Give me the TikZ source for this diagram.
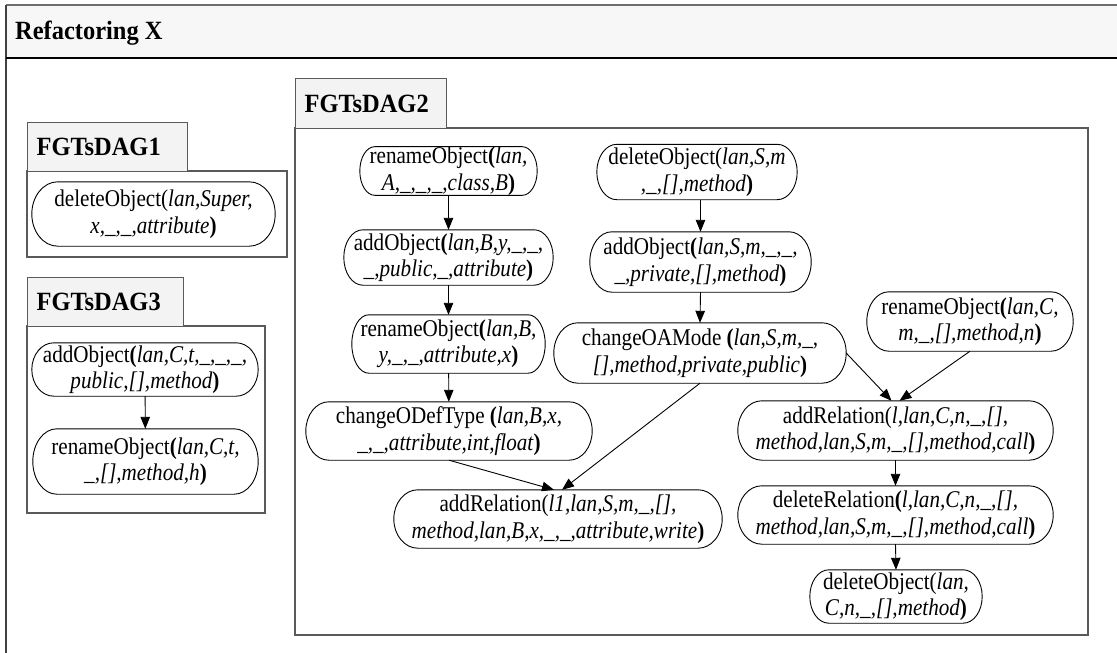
\documentclass[tikz,border=0pt]{standalone}
\usepackage{fontspec}
\setmainfont{Liberation Serif}
\newfontfamily\opfont[FakeStretch=0.88]{Liberation Serif}
\newfontfamily\hdrfont[FakeStretch=0.93]{Liberation Serif}
\usetikzlibrary{arrows.meta,calc}

\definecolor{framegray}{HTML}{5A5A5A}
\definecolor{outergray}{HTML}{6E6E6E}
\definecolor{titlefill}{HTML}{F7F7F7}
\definecolor{hdrfill}{HTML}{F3F3F3}

\newcommand{\ii}[1]{\textit{#1}}
\newcommand{\bo}{\textbf{(}}
\newcommand{\bc}{\textbf{)}}

\tikzset{
  x=1pt, y=-1pt,
  % operation node: #1 = width, #2 = height; its outline is drawn by \pillborder
  op/.style 2 args={rectangle, align=center, inner sep=0pt,
    minimum width=#1, minimum height=#2,
    font=\opfont\fontsize{24}{26.5}\selectfont},
  pillline/.style={draw=black, line width=0.9pt},
  hdr/.style={draw=framegray, fill=hdrfill, line width=1.2pt, anchor=north west,
    inner xsep=9pt, align=left, font=\hdrfont\fontsize{26.3}{28}\selectfont\bfseries},
  frm/.style={draw=framegray, line width=1.2pt},
  flow/.style={-{Triangle[length=12pt,width=9.5pt]}, line width=0.9pt},
}

% outline with elliptic ends around node #1, ends #2 wide
\newcommand{\pillborder}[2]{%
  \draw[pillline] let \p1=(#1.north east), \p2=(#1.south west),
      \n1={(\y1-\y2)/2} in
    ([xshift=#2]#1.north west) -- ([xshift=-#2]#1.north east)
    arc[start angle=90, end angle=-90, x radius=#2, y radius=\n1]
    -- ([xshift=#2]#1.south west)
    arc[start angle=270, end angle=90, x radius=#2, y radius=\n1]
    -- cycle;}

\begin{document}
\begin{tikzpicture}
\useasboundingbox (0,0) rectangle (1117,653);
\clip (0,0) rectangle (1117,653);

% outer panel with its title bar
\fill[titlefill] (6,5) rectangle (1130,58);
\draw[outergray, line width=2pt] (1130,5) -- (6,5);
\draw[black!75, line width=2pt] (6,5) -- (6,670);
\draw[black, line width=1.8pt] (6,58) -- (1130,58);
\node[anchor=base west, inner sep=0pt, font=\hdrfont\fontsize{26.3}{28}\selectfont\bfseries]
  (title) at (15,39.5) {Refactoring X};

% group frames
\draw[frm] (27,171) rectangle (287,257);
\draw[frm] (27,326) rectangle (265,513);
\draw[frm] (295,128) rectangle (1088,635);

% group headers
\node[hdr, minimum width=160pt, minimum height=49pt, text width=142pt] (g1) at (27,122) {FGTsDAG1};
\node[hdr, minimum width=156pt, minimum height=49pt, text width=138pt] (g3) at (27,277) {FGTsDAG3};
\node[hdr, minimum width=151pt, minimum height=50pt, text width=133pt] (g2) at (295,78) {FGTsDAG2};

% FGTsDAG1
\node[op={243pt}{64pt}] (d1) at (153.5,214)
  {deleteObject(\ii{lan,Super,}\\\ii{x,\_,\_,attribute}\bc};

% FGTsDAG3
\node[op={226pt}{53pt}] (d3a) at (145,369.5)
  {addObject\bo\ii{lan,C,t,\_,\_,\_,}\\\ii{public,[],method}\bc};
\node[op={225pt}{65pt}] (d3b) at (145.5,461.5)
  {renameObject\bo\ii{lan,C,t,}\\\ii{\_,[],method,h}\bc};

% FGTsDAG2
\node[op={177pt}{48pt}] (rA) at (448.5,171)
  {renameObject\bo\ii{lan,}\\\ii{A,\_,\_,\_,class,B}\bc};
\node[op={200pt}{55pt}] (dS) at (697,172)
  {deleteObject(\ii{lan,S,m}\\\ii{,\_,[],method}\bc};
\node[op={209pt}{55pt}] (aB) at (448.5,257.5)
  {addObject\bo\ii{lan,B,y,\_,\_,}\\\ii{\_,public,\_,attribute}\bc};
\node[op={221pt}{60pt}] (aS) at (700.5,262)
  {addObject\bo\ii{lan,S,m,\_,\_,}\\\ii{\_,private,[],method}\bc};
\node[op={193pt}{58pt}] (rB) at (448.5,344)
  {renameObject\bo\ii{lan,B,}\\\ii{y,\_,\_,attribute,x}\bc};
\node[op={292pt}{60pt}] (cOA) at (700,353)
  {changeOAMode \bo\ii{lan,S,m,\_,}\\\ii{[],method,private,public}\bc};
\node[op={206pt}{59pt}] (rC) at (970,321.5)
  {renameObject\bo\ii{lan,C,}\\\ii{m,\_,[],method,n}\bc};
\node[op={286pt}{58pt}] (cOD) at (449,431)
  {changeODefType \bo\ii{lan,B,x,}\\\ii{\_,\_,attribute,int,float}\bc};
\node[op={315pt}{59pt}] (aRl) at (895.5,430.5)
  {addRelation(\ii{l,lan,C,n,\_,[],}\\\ii{method,lan,S,m,\_,[],method,call}\bc};
\node[op={328pt}{58pt}] (aR1) at (558,519)
  {addRelation(\ii{l1,lan,S,m,\_,[],}\\\ii{method,lan,B,x,\_,\_,attribute,write}\bc};
\node[op={315pt}{58pt}] (dR) at (895.5,515)
  {deleteRelation\bo\ii{l,lan,C,n,\_,[],}\\\ii{method,lan,S,m,\_,[],method,call}\bc};
\node[op={172pt}{53pt}] (dC) at (896,596.5)
  {deleteObject(\ii{lan,}\\\ii{C,n,\_,[],method}\bc};

% node outlines
\foreach \nm/\rx in {d1/26pt, d3a/22pt, d3b/24pt, rA/15pt, dS/20pt, aB/19pt,
    aS/22pt, rB/17pt, cOA/24pt, rC/22pt, cOD/23pt, aRl/24pt, aR1/24pt,
    dR/24pt, dC/19pt}
  {\pillborder{\nm}{\rx}}

% dependencies
\draw[flow] (d3a) -- (d3b);
\draw[flow] (rA) -- (aB);
\draw[flow] (aB) -- (rB);
\draw[flow] (rB) -- (cOD);
\draw[flow] (aS.north |- dS.south) -- (aS.north);
\draw[flow] (aS.south) -- (cOA.north);
\draw[flow] (cOD.south) -- ([xshift=-4pt]aR1.north);
\draw[flow] (cOA.south) -- ([xshift=4pt]aR1.north);
\draw[flow] (cOA.east) -- ([xshift=-4pt]aRl.north);
\draw[flow] (rC.south) -- ([xshift=4pt]aRl.north);
\draw[flow] (aRl) -- (dR);
\draw[flow] (dR.south) -- (dC.north);
\end{tikzpicture}
\end{document}
